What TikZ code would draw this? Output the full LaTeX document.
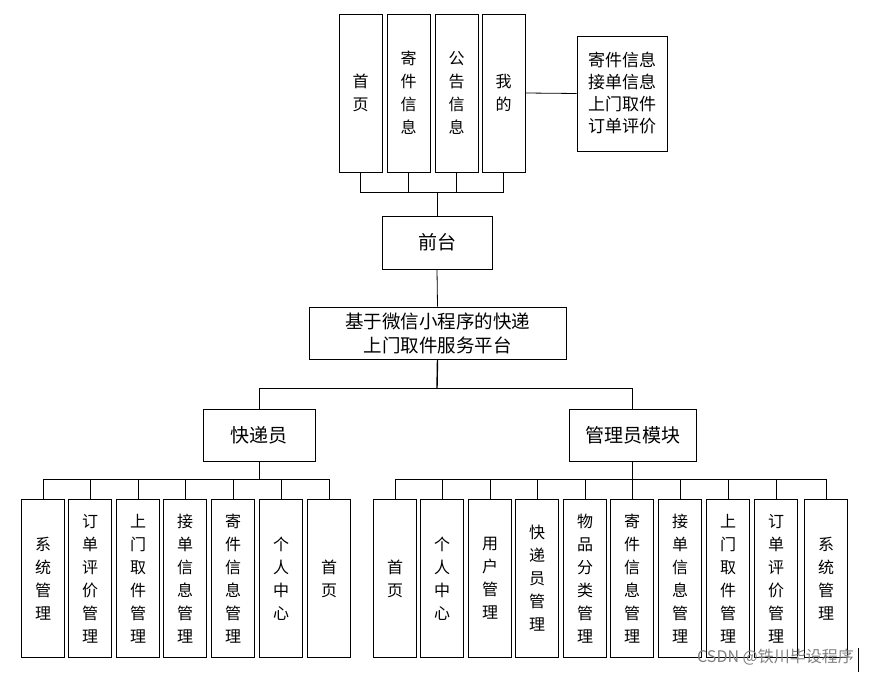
\documentclass[tikz,border=0pt]{standalone}
\usepackage{fontspec}
\setmainfont{Noto Sans CJK SC}
\begin{document}
\begin{tikzpicture}[x=1pt,y=-1pt,
  bx/.style={draw,line width=0.8pt,minimum width=43pt,minimum height=158pt,align=center,font=\fontsize{16}{23}\selectfont,inner sep=0pt},
  hb/.style={draw,line width=0.8pt,align=center,font=\fontsize{19}{25}\selectfont,inner sep=0pt},
  ln/.style={line width=0.8pt}]
\useasboundingbox (0,0) rectangle (869,676);
% top
\node[bx] (t1) at (360.5,93) {首\\页};
\node[bx] (t2) at (408.5,93) {寄\\件\\信\\息};
\node[bx] (t3) at (456.5,93) {公\\告\\信\\息};
\node[bx] (t4) at (503.5,93) {我\\的};
\node[hb,minimum width=90pt,minimum height=115pt,font=\fontsize{17}{22}\selectfont] (info) at (622,93.5) {寄件信息\\接单信息\\上门取件\\订单评价};
\draw[ln] (t4.east) -- (info.west);
\node[hb,minimum width=110pt,minimum height=53pt] (qt) at (437,242.5) {前台};
\node[hb,minimum width=257pt,minimum height=52pt,font=\fontsize{18.5}{24}\selectfont] (pf) at (437.5,333) {基于微信小程序的快递\\上门取件服务平台};
\node[hb,minimum width=112pt,minimum height=52pt] (kd) at (259,435) {快递员};
\node[hb,minimum width=127pt,minimum height=52pt] (gl) at (632.5,435) {管理员模块};
\coordinate (tb) at (437,192);
\draw[ln] (t1.south) -- (360.5,192) -- (503.5,192) -- (t4.south);
\draw[ln] (t2.south) -- (408.5,192);
\draw[ln] (t3.south) -- (456.5,192);
\draw[ln] (tb) -- (qt.north);
\draw[ln] (qt.south) -- (pf.north);
\draw[line width=1.4pt] (pf.south) -- (437,388);
\draw[ln] (kd.north) -- (259,388) -- (632.5,388) -- (gl.north);
% courier
\foreach \n/\x/\t in {c1/43/系\\统\\管\\理, c2/90/订\\单\\评\\价\\管\\理, c3/138/上\\门\\取\\件\\管\\理, c4/185/接\\单\\信\\息\\管\\理, c5/233/寄\\件\\信\\息\\管\\理, c6/281/个\\人\\中\\心, c7/329/首\\页}{
  \node[bx] (\n) at (\x,578.5) {\t};
  \draw[ln] (\n.north) -- (\x,479);
}
\draw[ln] (43,479) -- (329,479);
\draw[ln] (kd.south) -- (259,479);
% admin
\foreach \n/\x/\t in {a1/395/首\\页, a2/442/个\\人\\中\\心, a3/490/用\\户\\管\\理, a4/537/快\\递\\员\\管\\理, a5/585/物\\品\\分\\类\\管\\理, a6/632/寄\\件\\信\\息\\管\\理, a7/680/接\\单\\信\\息\\管\\理, a8/728/上\\门\\取\\件\\管\\理, a9/776/订\\单\\评\\价\\管\\理, a10/826/系\\统\\管\\理}{
  \node[bx] (\n) at (\x,578.5) {\t};
  \draw[ln] (\n.north) -- (\x,479);
}
\draw[ln] (395,479) -- (826,479);
\draw[ln] (gl.south) -- (632.5,479);
\node[anchor=east,text=gray,font=\fontsize{16}{18}\selectfont,inner sep=0pt] (wm) at (854,657) {CSDN @铁川毕设程序};
\draw[line width=1pt] (858,648) -- (858,672);
\end{tikzpicture}
\end{document}
